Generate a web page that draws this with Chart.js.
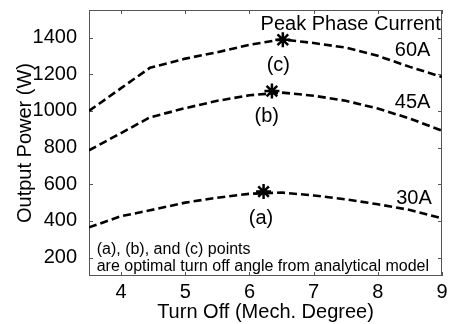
<!DOCTYPE html>
<html>
<head>
<meta charset="utf-8">
<script src="https://cdn.jsdelivr.net/npm/chart.js@4/dist/chart.umd.min.js"></script>
<style>
  body { margin: 0; background: #fff; }
  #wrap { width: 452px; height: 324px; }
</style>
</head>
<body>
<div id="wrap"><canvas id="myChart" width="452" height="324"></canvas></div>
<script>
// turn off angle (mech. degree)
const turnOff = [3.5, 4, 4.45, 5, 5.5, 6, 6.5, 7, 7.5, 8, 8.5, 9];
// output power (W) per peak phase current
const power60A = [1000, 1124, 1235, 1285, 1320, 1360, 1390, 1370, 1345, 1300, 1240, 1185];
const power45A = [785, 879, 965, 1015, 1055, 1085, 1100, 1083, 1055, 1013, 958, 892];
const power30A = [365, 426, 458, 500, 527, 548, 555, 539, 518, 491, 460, 414];

// optimal points from analytical model: (a), (b), (c)
const optimalAngle = [6.22, 6.35, 6.52];
const optimalPower = [560, 1108, 1388];

const xTicks = [4, 5, 6, 7, 8, 9];
const yTicks = [200, 400, 600, 800, 1000, 1200, 1400];

const FONT = 'Arial, "Liberation Sans", sans-serif';

function toPoints(ys) {
  return turnOff.map((x, i) => ({ x: x, y: ys[i] }));
}

function lineSet(label, ys) {
  return {
    type: 'line',
    label: label,
    data: toPoints(ys),
    borderColor: '#000',
    borderWidth: 2.6,
    borderDash: [8, 4],
    pointRadius: 0,
    tension: 0,
    fill: false
  };
}

// text placed in data coordinates
const notes = [
  { text: 'Peak Phase Current', x: 8.98, y: 1443, align: 'right', size: 20 },
  { text: '60A', x: 8.82, y: 1298, align: 'right', size: 20 },
  { text: '45A', x: 8.82, y: 1018, align: 'right', size: 20 },
  { text: '30A', x: 8.84, y: 491, align: 'right', size: 20 },
  { text: '(c)', x: 6.45, y: 1215, align: 'center', size: 20 },
  { text: '(b)', x: 6.27, y: 940, align: 'center', size: 20 },
  { text: '(a)', x: 6.18, y: 386, align: 'center', size: 20 },
  { text: '(a), (b), and (c) points', x: 3.62, y: 222, align: 'left', size: 16 },
  { text: 'are optimal turn off angle from analytical model', x: 3.62, y: 125, align: 'left', size: 16 }
];

const boxPlugin = {
  id: 'box',
  beforeDatasetsDraw(chart) {
    const ctx = chart.ctx;
    const a = chart.chartArea;
    const xs = chart.scales.x, ys = chart.scales.y;
    ctx.save();
    ctx.fillStyle = '#000';
    notes.forEach(n => {
      ctx.font = n.size + 'px ' + FONT;
      ctx.textAlign = n.align;
      ctx.textBaseline = 'alphabetic';
      ctx.fillText(n.text, xs.getPixelForValue(n.x), ys.getPixelForValue(n.y));
    });
    ctx.strokeStyle = '#555';
    ctx.lineWidth = 1;
    ctx.strokeRect(a.left + 0.5, a.top + 0.5, a.right - a.left - 1, a.bottom - a.top - 1);
    ctx.beginPath();
    xTicks.forEach(v => {
      const px = Math.round(xs.getPixelForValue(v)) + 0.5;
      ctx.moveTo(px, a.bottom); ctx.lineTo(px, a.bottom - 4);
      ctx.moveTo(px, a.top); ctx.lineTo(px, a.top + 4);
    });
    yTicks.forEach(v => {
      const py = Math.round(ys.getPixelForValue(v)) + 0.5;
      ctx.moveTo(a.left, py); ctx.lineTo(a.left + 4, py);
      ctx.moveTo(a.right, py); ctx.lineTo(a.right - 4, py);
    });
    ctx.stroke();
    ctx.restore();
  }
};

const config = {
  type: 'scatter',
  data: {
    datasets: [
      lineSet('60A', power60A),
      lineSet('45A', power45A),
      lineSet('30A', power30A),
      {
        type: 'scatter',
        label: 'optimal',
        data: optimalAngle.map((x, i) => ({ x: x, y: optimalPower[i] })),
        pointStyle: 'star',
        pointRadius: 7.5,
        pointBorderWidth: 2.5,
        borderColor: '#000',
        backgroundColor: '#000'
      }
    ]
  },
  options: {
    responsive: false,
    animation: false,
    devicePixelRatio: 1,
    layout: { padding: { left: 0, top: 9, right: 8, bottom: 0 } },
    plugins: { legend: { display: false }, tooltip: { enabled: false } },
    scales: {
      x: {
        type: 'linear',
        min: 3.5,
        max: 9,
        grid: { display: false },
        border: { display: false },
        afterBuildTicks(scale) { scale.ticks = xTicks.map(v => ({ value: v })); },
        afterFit(scale) { scale.height = 48; scale.paddingLeft = 0; scale.paddingRight = 0; },
        ticks: { color: '#000', font: { family: FONT, size: 20 }, padding: -4, callback: v => String(v) },
        title: {
          display: true,
          text: 'Turn Off (Mech. Degree)',
          color: '#000',
          font: { family: FONT, size: 20 },
          padding: { top: 0, bottom: 0 }
        }
      },
      y: {
        type: 'linear',
        min: 100,
        max: 1550,
        grid: { display: false },
        border: { display: false },
        afterBuildTicks(scale) { scale.ticks = yTicks.map(v => ({ value: v })); },
        afterFit(scale) { scale.width = 89; scale.paddingTop = 0; scale.paddingBottom = 0; },
        ticks: { color: '#000', font: { family: FONT, size: 20 }, padding: 4, callback: v => String(v) },
        title: {
          display: true,
          text: 'Output Power (W)',
          color: '#000',
          font: { family: FONT, size: 20 },
          padding: { top: 13, bottom: 0 }
        }
      }
    }
  },
  plugins: [boxPlugin]
};

new Chart(document.getElementById('myChart').getContext('2d'), config);
</script>
</body>
</html>
